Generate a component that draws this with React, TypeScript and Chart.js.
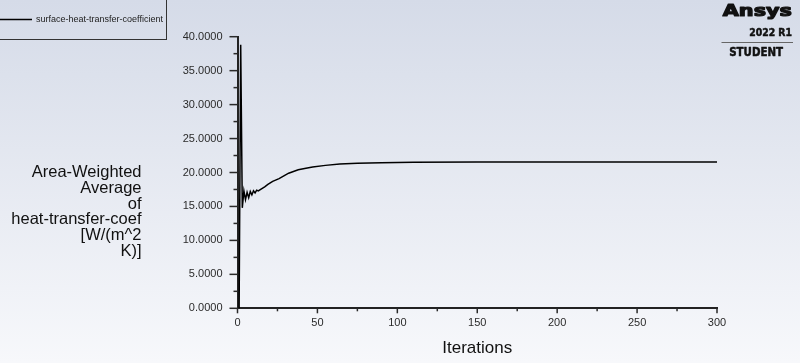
import { useEffect, useRef } from "react";
import { Chart, registerables } from "chart.js";

Chart.register(...registerables);

// ---- data ----
const iterations = [1, 2, 3, 4, 5, 6, 7, 8, 9, 10, 11, 12, 13, 15, 17, 19, 22, 26, 29, 32, 35, 38, 42, 47, 55, 64, 75, 90, 110, 150, 200, 250, 300];
const heatTransferCoef = [-0.6, 38.8, 14.8, 17.3, 16.0, 17.1, 16.3, 17.2, 16.7, 17.3, 17.0, 17.4, 17.3, 17.6, 17.9, 18.25, 18.7, 19.1, 19.5, 19.9, 20.15, 20.4, 20.6, 20.8, 21.05, 21.25, 21.35, 21.45, 21.5, 21.55, 21.55, 21.55, 21.55];
const legendLabel = "surface-heat-transfer-coefficient";
const yTitleLines = ["Area-Weighted", "Average", "of", "heat-transfer-coef", "[W/(m^2", "K)]"];
const xTitle = "Iterations";
const yMin = 0;
const yMax = 40;
const yStep = 5;
const xMin = 0;
const xMax = 300;
const xStep = 50;

const FONT = '"Liberation Sans", Arial, sans-serif';

const backgroundPlugin = {
  id: "bgGradient",
  beforeDraw(chart: any) {
    const { ctx, width, height } = chart;
    const g = ctx.createLinearGradient(0, 0, 0, height);
    g.addColorStop(0, "rgb(213,219,232)");
    g.addColorStop(1, "rgb(247,248,251)");
    ctx.save();
    ctx.fillStyle = g;
    ctx.fillRect(0, 0, width, height);
    ctx.restore();
  },
};

function stretchedText(ctx: any, text: string, x: number, y: number, font: string, sx: number, stroke: number) {
  ctx.save();
  ctx.translate(x, y);
  ctx.scale(sx, 1);
  ctx.font = font;
  ctx.fillText(text, 0, 0);
  if (stroke > 0) {
    ctx.lineWidth = stroke;
    ctx.strokeStyle = ctx.fillStyle;
    ctx.lineJoin = "round";
    ctx.strokeText(text, 0, 0);
  }
  ctx.restore();
}

const decorPlugin = {
  id: "decor",
  afterDraw(chart: any) {
    const { ctx } = chart;
    const xs = chart.scales.x;
    const ys = chart.scales.y;
    ctx.save();
    // tick marks
    ctx.strokeStyle = "#2a2a2a";
    ctx.lineWidth = 1.5;
    const axisY = ys.getPixelForValue(yMin);
    const axisX = xs.getPixelForValue(xMin);
    for (let v = xMin; v <= xMax + 0.001; v += xStep / 2) {
      const px = xs.getPixelForValue(v);
      const major = Math.abs(v / xStep - Math.round(v / xStep)) < 1e-6;
      ctx.beginPath();
      ctx.moveTo(px, axisY);
      ctx.lineTo(px, axisY + (major ? 5 : 3));
      ctx.stroke();
    }
    for (let v = yMin; v <= yMax + 0.001; v += yStep / 2) {
      const py = ys.getPixelForValue(v);
      const major = Math.abs(v / yStep - Math.round(v / yStep)) < 1e-6;
      ctx.beginPath();
      ctx.moveTo(axisX, py);
      ctx.lineTo(axisX - (major ? 8 : 4), py);
      ctx.stroke();
    }

    // y title
    ctx.fillStyle = "#111";
    ctx.font = `16.5px ${FONT}`;
    ctx.textAlign = "right";
    ctx.textBaseline = "middle";
    yTitleLines.forEach((line, i) => {
      ctx.fillText(line, 141.5, 172.5 + i * 15.8);
    });

    // x title
    ctx.font = `17px ${FONT}`;
    ctx.textAlign = "center";
    ctx.fillText(xTitle, (xs.left + xs.right) / 2, 348);

    // legend
    ctx.strokeStyle = "#333";
    ctx.lineWidth = 1;
    ctx.strokeRect(-0.5, -0.5, 167, 40);
    ctx.strokeStyle = "#000";
    ctx.lineWidth = 1.5;
    ctx.beginPath();
    ctx.moveTo(0, 19.5);
    ctx.lineTo(32, 19.5);
    ctx.stroke();
    ctx.fillStyle = "#222";
    ctx.font = `9px ${FONT}`;
    ctx.textAlign = "left";
    ctx.fillText(legendLabel, 36, 19.5);

    // logo
    ctx.fillStyle = "#111";
    ctx.textAlign = "right";
    ctx.textBaseline = "alphabetic";
    stretchedText(ctx, "Ansys", 792, 16, `bold 16px "DejaVu Sans", sans-serif`, 1.3, 1.2);
    stretchedText(ctx, "2022 R1", 792, 35.5, `bold 10px "DejaVu Sans", sans-serif`, 0.93, 0.5);
    ctx.strokeStyle = "#666";
    ctx.lineWidth = 1;
    ctx.beginPath();
    ctx.moveTo(721.5, 42.5);
    ctx.lineTo(793, 42.5);
    ctx.stroke();
    stretchedText(ctx, "STUDENT", 783, 56, `bold 11.4px "DejaVu Sans", sans-serif`, 0.9, 0.5);

    ctx.restore();
  },
};

export default function App() {
  const ref = useRef<HTMLCanvasElement | null>(null);
  useEffect(() => {
    document.body.style.margin = "0";
    const canvas = ref.current;
    if (!canvas) return;
    const chart = new Chart(canvas, {
      type: "line",
      data: {
        datasets: [
          {
            label: legendLabel,
            data: iterations.map((x, i) => ({ x, y: heatTransferCoef[i] })),
            borderColor: "#000",
            borderWidth: 1.5,
            pointRadius: 0,
            tension: 0,
            fill: false,
          },
        ],
      },
      options: {
        animation: false,
        responsive: false,
        devicePixelRatio: 1,
        layout: { padding: { left: 177.5, top: 36.7, right: 83, bottom: 0 } },
        plugins: { legend: { display: false }, tooltip: { enabled: false } },
        scales: {
          x: {
            type: "linear",
            min: xMin,
            max: xMax,
            grid: { display: false, drawTicks: false },
            border: { display: true, color: "#222", width: 2 },
            ticks: {
              stepSize: xStep,
              padding: 8,
              color: "#2b2b2b",
              font: { family: FONT, size: 11 },
              maxRotation: 0,
            },
            afterFit(scale: any) {
              scale.height = 54.7;
            },
          },
          y: {
            type: "linear",
            min: yMin,
            max: yMax,
            grid: { display: false, drawTicks: false },
            border: { display: true, color: "#222", width: 2 },
            ticks: {
              stepSize: yStep,
              padding: 15,
              color: "#2b2b2b",
              font: { family: FONT, size: 11 },
              callback: (v: any) => Number(v).toFixed(4),
            },
            afterFit(scale: any) {
              scale.width = 60;
            },
          },
        },
      },
      plugins: [backgroundPlugin, decorPlugin],
    });
    return () => chart.destroy();
  }, []);
  return <canvas ref={ref} width={800} height={363} style={{ display: "block", width: 800, height: 363 }} />;
}
